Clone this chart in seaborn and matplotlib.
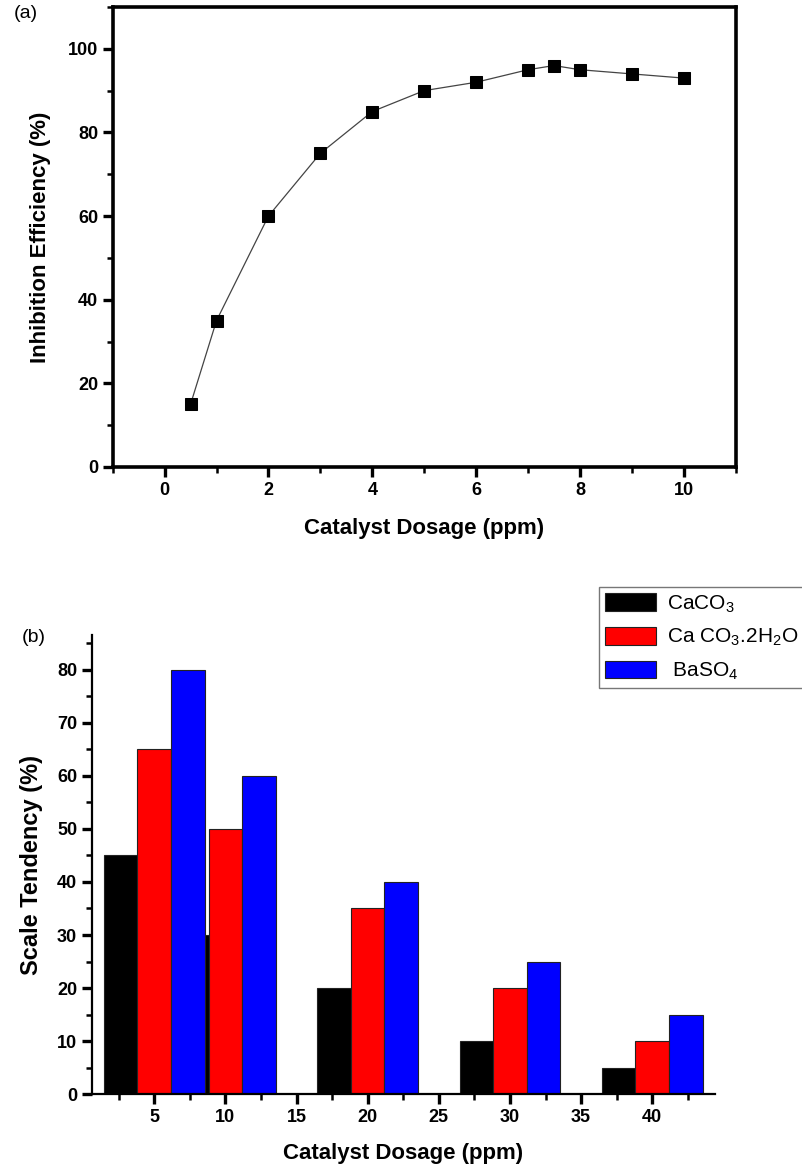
import pandas as pd
import numpy as np
import matplotlib
matplotlib.use('Agg')
import matplotlib.pyplot as plt
from matplotlib.ticker import MultipleLocator
import seaborn as sns

# (a) inhibition efficiency vs dosage
dosage_a = [0.5, 1, 2, 3, 4, 5, 6, 7, 7.5, 8, 9, 10]
efficiency = [15, 35, 60, 75, 85, 90, 92, 95, 96, 95, 94, 93]

# (b) scale tendency per salt
dosage_b = [5, 10, 20, 30, 40]
salts = [r'CaCO$_3$', r'Ca CO$_3$.2H$_2$O', r' BaSO$_4$']
caco3 = [45, 30, 20, 10, 5]
caco3_2h2o = [65, 50, 35, 20, 10]
baso4 = [80, 60, 40, 25, 15]
bar_colors = ['#000000', '#ff0000', '#0000ff']

sns.set_style('ticks')
plt.rcParams['font.family'] = ['Liberation Sans', 'DejaVu Sans']
plt.rcParams['mathtext.default'] = 'regular'
plt.rcParams['text.color'] = 'black'
plt.rcParams['axes.labelcolor'] = 'black'
plt.rcParams['axes.edgecolor'] = 'black'
plt.rcParams['xtick.color'] = 'black'
plt.rcParams['ytick.color'] = 'black'

narrow = ['Liberation Sans Narrow', 'Liberation Sans', 'DejaVu Sans']
wide = ['Liberation Sans', 'DejaVu Sans']

fig = plt.figure(figsize=(8.02, 11.66), dpi=100)
ax1 = fig.add_axes([0.1405, 0.5995, 0.7768, 0.3945])
ax2 = fig.add_axes([0.1143, 0.0615, 0.777, 0.3939])

#Panel (a)
sns.lineplot(x=dosage_a, y=efficiency, ax=ax1, color='#444444', linewidth=0.9,
             marker='s', markersize=9, markerfacecolor='black',
             markeredgecolor='black')
ax1.set_xlim(-1, 11)
ax1.set_ylim(0, 110)
ax1.xaxis.set_major_locator(MultipleLocator(2))
ax1.xaxis.set_minor_locator(MultipleLocator(1))
ax1.yaxis.set_major_locator(MultipleLocator(20))
ax1.yaxis.set_minor_locator(MultipleLocator(10))
for s in ax1.spines.values():
    s.set_linewidth(2.6)
    s.set_color('black')
ax1.set_xlabel('Catalyst Dosage (ppm)', family=narrow, fontweight='bold',
               fontsize=16, labelpad=14)
ax1.set_ylabel('Inhibition Efficiency (%)', family=wide, fontweight='bold',
               fontsize=16, labelpad=12)

#Panel (b)
df = pd.DataFrame({
    'dosage': dosage_b * 3,
    'salt': [salts[0]] * 5 + [salts[1]] * 5 + [salts[2]] * 5,
    'tendency': caco3 + caco3_2h2o + baso4,
})
sns.barplot(data=df, x='dosage', y='tendency', hue='salt', hue_order=salts,
            palette=bar_colors, saturation=1, native_scale=True, width=1.416,
            errorbar=None, edgecolor='#222222', linewidth=0.8, ax=ax2)
ax2.set_xlim(0.6, 44.4)
ax2.set_ylim(0, 86.5)
ax2.xaxis.set_major_locator(MultipleLocator(5))
ax2.xaxis.set_minor_locator(MultipleLocator(2.5))
ax2.yaxis.set_major_locator(MultipleLocator(10))
ax2.yaxis.set_minor_locator(MultipleLocator(5))
ax2.set_xticks([5, 10, 15, 20, 25, 30, 35, 40])
ax2.spines['top'].set_visible(False)
ax2.spines['right'].set_visible(False)
for s in ['left', 'bottom']:
    ax2.spines[s].set_linewidth(1.6)
    ax2.spines[s].set_color('black')
ax2.set_xlabel('Catalyst Dosage (ppm)', family=narrow, fontweight='bold',
               fontsize=16, labelpad=12)
ax2.set_ylabel('Scale Tendency (%)', family=wide, fontweight='bold',
               fontsize=17, labelpad=10)

handles, labels = ax2.get_legend_handles_labels()
ax2.legend(handles, labels, loc='upper left',
           bbox_to_anchor=(599 / 802, 1 - 587 / 1166),
           bbox_transform=fig.transFigure, fontsize=15, frameon=True,
           fancybox=False, edgecolor='#555555', handlelength=2.45,
           handleheight=0.9, labelspacing=0.6, borderpad=0.3,
           handletextpad=0.5, borderaxespad=0)

for ax in [ax1, ax2]:
    ax.tick_params(which='major', direction='out', length=7, width=2.4,
                   top=False, right=False)
    ax.tick_params(which='minor', direction='out', length=4, width=1.8,
                   top=False, right=False)
    for lab in ax.get_xticklabels() + ax.get_yticklabels():
        lab.set_family(narrow)
        lab.set_fontweight('bold')
        lab.set_fontsize(13)

fig.text(14 / 802, 1 - 14 / 1166, '(a)', fontsize=14, va='center', ha='left')
fig.text(22 / 802, 1 - 637 / 1166, '(b)', fontsize=14, va='center', ha='left')

fig.savefig('out.png', dpi=100)
